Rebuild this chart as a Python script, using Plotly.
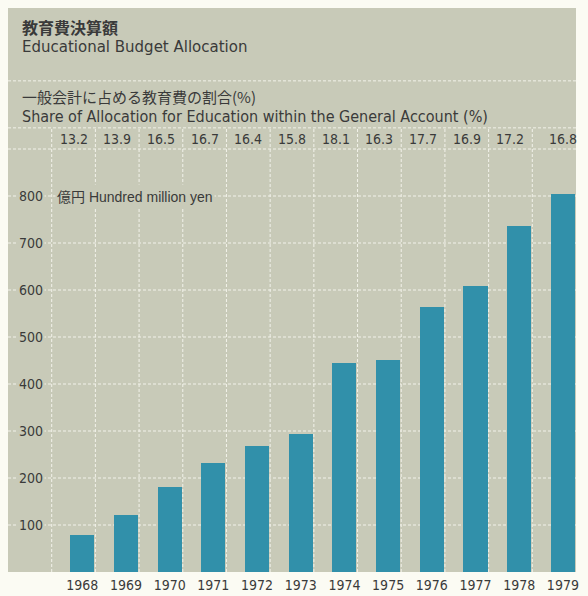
import plotly.graph_objects as go

# Educational budget, 1968-1979 (hundred million yen)
years = ["1968", "1969", "1970", "1971", "1972", "1973",
         "1974", "1975", "1976", "1977", "1978", "1979"]
budget = [79, 121, 181, 232, 268, 294, 445, 451, 564, 609, 736, 804]
# Share of the general account spent on education (%)
share = ["13.2", "13.9", "16.5", "16.7", "16.4", "15.8",
         "18.1", "16.3", "17.7", "16.9", "17.2", "16.8"]
y_ticks = [100, 200, 300, 400, 500, 600, 700, 800]

W, H = 588, 596
PANEL_L, PANEL_R, PANEL_T, PANEL_B = 8, 576, 8, 572
X_RANGE = [-1.7, 11.3]
Y_RANGE = [0, 1200]

PANEL = "#c8cab8"
BAR = "#3190aa"
GRID = "#f2f2ea"
INK = "#3a3a3a"
PAPER = "#fbfbf3"

NARROW = "Liberation Sans Narrow, DejaVu Sans Condensed, Arial Narrow, sans-serif"
SANS = "Liberation Sans, Arial, sans-serif"
WIDE = "DejaVu Sans, Verdana, sans-serif"
CJK = "Noto Sans CJK JP, sans-serif"


def px_x(p):
    return (p - PANEL_L) / (PANEL_R - PANEL_L)


def px_y(p):
    return (PANEL_B - p) / (PANEL_B - PANEL_T)


idx = list(range(len(years)))

fig = go.Figure(
    go.Bar(x=idx, y=budget, width=0.55, marker=dict(color=BAR, line=dict(width=0)),
           hoverinfo="skip")
)

shapes = []
dash = "3px,2px"
# horizontal rules: value grid plus the header separators
for v in y_ticks + [900, 945, 1045]:
    shapes.append(dict(type="line", xref="paper", yref="y", x0=0, x1=1, y0=v, y1=v,
                       line=dict(color=GRID, width=1, dash=dash), layer="below"))
# vertical rules between the yearly columns
grid_x = [i - 0.7 for i in idx]
for gx in grid_x:
    shapes.append(dict(type="line", xref="x", yref="y", x0=gx, x1=gx, y0=0, y1=945,
                       line=dict(color=GRID, width=1, dash=dash), layer="below"))

ann = []
# percentage row: one label per column cell
share_x = [i - 0.2 for i in idx[:-1]] + [idx[-1]]
for sx, s in zip(share_x, share):
    ann.append(dict(x=sx, y=922, xref="x", yref="y", text=s, showarrow=False,
                    yanchor="middle",
                    font=dict(family=NARROW, size=14, color=INK)))
# value axis labels
for v in y_ticks:
    ann.append(dict(x=px_x(45), y=v, xref="paper", yref="y", text=str(v),
                    xanchor="right", yanchor="middle", showarrow=False,
                    bgcolor=PANEL, borderpad=1,
                    font=dict(family=NARROW, size=14, color=INK)))
ann.append(dict(x=px_x(55), y=800, xref="paper", yref="y", xanchor="left",
                yanchor="middle",
                text="<span style='font-family:Noto Sans CJK JP'>億円</span> Hundred million yen",
                showarrow=False, bgcolor=PANEL, borderpad=1,
                font=dict(family=SANS, size=14, color=INK)))
# titles
titles = [
    ("<b>教育費決算額</b>", 27, CJK, 16),
    ("Educational Budget Allocation", 47, WIDE, 15),
    ("一般会計に占める教育費の割合(%)", 97, CJK, 15),
    ("Share of Allocation for Education within the General Account (%)", 116, NARROW, 16),
]
for text, py, fam, size in titles:
    ann.append(dict(x=px_x(20), y=px_y(py), xref="paper", yref="paper",
                    xanchor="left", yanchor="middle", text=text, showarrow=False,
                    font=dict(family=fam, size=size, color=INK)))

fig.update_layout(
    width=W, height=H,
    margin=dict(l=PANEL_L, r=W - PANEL_R, t=PANEL_T, b=H - PANEL_B, pad=0),
    paper_bgcolor=PAPER, plot_bgcolor=PANEL,
    showlegend=False,
    shapes=shapes, annotations=ann,
    xaxis=dict(range=X_RANGE, tickmode="array", tickvals=idx, ticktext=years,
               showgrid=False, zeroline=False, showline=False, ticks="",
               automargin=False, ticklabelstandoff=3,
               tickfont=dict(family=NARROW, size=14, color=INK), fixedrange=True),
    yaxis=dict(range=Y_RANGE, showgrid=False, zeroline=False, showticklabels=False,
               showline=False, automargin=False, fixedrange=True),
    bargap=0,
)

fig.write_html("out.html", config={"displayModeBar": False})
